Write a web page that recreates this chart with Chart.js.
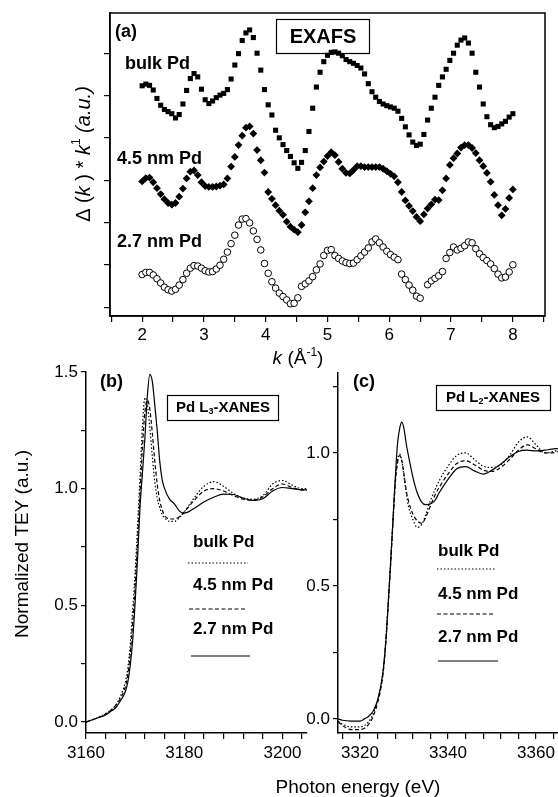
<!DOCTYPE html>
<html>
<head>
<meta charset="utf-8">
<script src="https://cdn.jsdelivr.net/npm/chart.js@4.4.1/dist/chart.umd.min.js"></script>
<style>
  html, body { margin: 0; padding: 0; background: #fff; }
  #wrap { position: relative; width: 558px; height: 797px; }
  #wrap canvas { position: absolute; left: 0; top: 0; }
</style>
</head>
<body>
<div id="wrap">
  <canvas id="exafs" width="558" height="797"></canvas>
  <canvas id="l3" width="558" height="797"></canvas>
  <canvas id="l2" width="558" height="797"></canvas>
</div>
<script>
// ---- EXAFS, panel (a) ----
const kValues = [
  2.00,2.06,2.12,2.18,2.24,2.30,2.36,2.42,2.48,2.54,
  2.60,2.66,2.72,2.78,2.84,2.90,2.96,3.02,3.08,3.14,
  3.20,3.26,3.32,3.38,3.44,3.50,3.56,3.62,3.68,3.74,
  3.80,3.86,3.92,3.98,4.04,4.10,4.16,4.22,4.28,4.34,
  4.40,4.46,4.52,4.58,4.64,4.70,4.76,4.82,4.88,4.94,
  5.00,5.06,5.12,5.18,5.24,5.30,5.36,5.42,5.48,5.54,
  5.60,5.66,5.72,5.78,5.84,5.90,5.96,6.02,6.08,6.14,
  6.20,6.26,6.32,6.38,6.44,6.50,6.56,6.62,6.68,6.74,
  6.80,6.86,6.92,6.98,7.04,7.10,7.16,7.22,7.28,7.34,
  7.40,7.46,7.52,7.58,7.64,7.70,7.76,7.82,7.88,7.94,
  8.00
];
const exafsBulk = [
  5.23,5.27,5.24,5.13,4.93,4.77,4.67,4.62,4.57,4.47,
  4.55,4.80,5.12,5.40,5.52,5.44,5.15,4.90,4.81,4.87,
  4.95,5.01,5.05,5.14,5.39,5.72,5.99,6.30,6.48,6.55,
  6.37,6.00,5.60,5.14,4.78,4.54,4.18,4.00,3.84,3.70,
  3.56,3.41,3.28,3.42,3.70,4.15,4.70,5.20,5.55,5.80,
  5.95,6.02,6.03,6.00,5.94,5.85,5.80,5.76,5.71,5.65,
  5.51,5.28,5.09,4.96,4.86,4.80,4.76,4.73,4.70,4.63,
  4.46,4.26,4.07,3.90,3.82,3.85,4.08,4.42,4.70,4.96,
  5.24,5.44,5.62,5.83,6.00,6.19,6.31,6.36,6.24,6.00,
  5.55,5.20,4.80,4.50,4.31,4.24,4.27,4.33,4.39,4.49,
  4.57
];
const exafs45nm = [
  2.97,3.05,3.06,2.95,2.81,2.67,2.55,2.46,2.42,2.46,
  2.61,2.80,3.04,3.20,3.23,3.12,2.95,2.86,2.84,2.84,
  2.85,2.87,2.90,3.04,3.32,3.55,3.83,4.05,4.24,4.27,
  4.10,3.71,3.47,3.18,2.72,2.56,2.41,2.28,2.18,2.02,
  1.90,1.83,1.77,1.94,2.24,2.50,2.81,3.12,3.30,3.44,
  3.57,3.66,3.59,3.43,3.27,3.17,3.16,3.24,3.33,3.33,
  3.31,3.31,3.31,3.31,3.31,3.27,3.21,3.15,3.09,2.95,
  2.72,2.52,2.39,2.27,2.13,2.03,2.19,2.33,2.43,2.54,
  2.53,2.76,3.04,3.36,3.52,3.63,3.77,3.83,3.83,3.76,
  3.64,3.47,3.33,3.17,2.96,2.65,2.41,2.17,2.32,2.58,
  2.78
];
const exafs27nm = [
  0.77,0.82,0.82,0.76,0.67,0.57,0.47,0.41,0.38,0.42,
  0.52,0.65,0.80,0.92,0.98,0.97,0.92,0.86,0.83,0.84,
  0.90,0.99,1.13,1.30,1.50,1.70,1.94,2.08,2.09,1.99,
  1.80,1.60,1.35,1.03,0.80,0.60,0.45,0.33,0.25,0.17,
  0.08,0.09,0.22,0.49,0.55,0.62,0.72,0.88,1.02,1.22,
  1.34,1.36,1.22,1.15,1.09,1.05,1.03,1.04,1.12,1.21,
  1.30,1.40,1.54,1.61,1.52,1.42,1.32,1.24,1.18,1.12,
  0.78,0.65,0.52,0.40,0.26,0.21,null,0.53,0.62,0.68,
  0.74,0.84,1.15,1.29,1.42,1.35,1.39,1.45,1.54,1.52,
  1.38,1.26,1.17,1.10,1.02,0.91,0.78,0.69,0.71,0.83,
  1.00
];
const kTickLabels = [2, 3, 4, 5, 6, 7, 8];

// ---- Pd L3-XANES, panel (b) ----
const energyL3 = [3160,3162,3164,3165,3166,3167,3168,3168.5,3169,3169.5,3170,3170.5,3171,3171.5,3172,3172.5,
  3173,3173.5,3174,3174.5,3175,3175.5,3176,3177,3178,3179,3180,3182,3184,3186,3188,3190,3192,3194,3196,3198,
  3200,3202,3204,3205];
const l3Bulk = [0.00,0.015,0.035,0.05,0.07,0.11,0.17,0.23,0.33,0.48,0.64,0.84,1.05,1.27,1.39,1.36,
  1.26,1.14,1.03,0.96,0.92,0.89,0.875,0.86,0.86,0.875,0.90,0.96,1.01,1.03,1.01,0.98,0.96,0.955,0.97,1.02,
  1.035,1.015,1.00,1.00];
const l3Nm45 = [0.00,0.015,0.035,0.05,0.07,0.10,0.15,0.20,0.29,0.42,0.58,0.77,0.98,1.18,1.33,1.38,
  1.34,1.24,1.12,1.02,0.95,0.91,0.885,0.87,0.87,0.88,0.90,0.95,0.99,1.00,0.99,0.97,0.955,0.95,0.965,1.00,
  1.02,1.005,0.995,0.995];
const l3Nm27 = [0.00,0.015,0.03,0.045,0.06,0.09,0.13,0.17,0.24,0.35,0.51,0.70,0.92,1.07,1.22,1.40,
  1.49,1.46,1.36,1.25,1.12,1.04,1.00,0.955,0.935,0.905,0.895,0.915,0.943,0.963,0.977,0.975,0.96,0.95,0.957,0.99,
  1.005,1.00,0.995,0.995];
const l3TickLabels = [3160, 3180, 3200];

// ---- Pd L2-XANES, panel (c) ----
const energyL2 = [3315,3316,3318,3320,3321,3322,3323,3324,3325,3325.5,3326,3326.5,3327,3327.5,3328,3328.5,
  3329,3329.5,3330,3330.5,3331,3332,3333,3334,3335,3336,3337,3338,3340,3342,3344,3346,3348,3350,3352,3354,
  3356,3358,3360,3362,3364,3365];
const l2Bulk = [-0.01,-0.02,-0.03,-0.03,-0.025,-0.01,0.02,0.07,0.15,0.22,0.33,0.46,0.60,0.75,0.89,0.97,
  0.995,0.97,0.91,0.85,0.80,0.75,0.72,0.73,0.77,0.82,0.86,0.895,0.95,0.99,1.00,0.975,0.95,0.945,0.955,0.99,
  1.04,1.06,1.03,1.00,1.005,1.01];
const l2Nm45 = [-0.01,-0.025,-0.04,-0.04,-0.035,-0.02,0.01,0.06,0.14,0.21,0.32,0.45,0.59,0.74,0.88,0.96,
  0.99,0.97,0.92,0.86,0.82,0.77,0.745,0.735,0.76,0.80,0.84,0.87,0.92,0.96,0.97,0.955,0.935,0.93,0.945,0.975,
  1.01,1.03,1.015,1.00,1.00,1.005];
const l2Nm27 = [0.00,-0.005,-0.008,-0.008,0.00,0.01,0.03,0.07,0.15,0.22,0.32,0.46,0.60,0.75,0.90,1.03,
  1.09,1.115,1.09,1.035,0.99,0.91,0.85,0.815,0.805,0.808,0.82,0.85,0.90,0.94,0.948,0.932,0.92,0.935,0.958,0.985,
  1.005,1.01,1.007,1.01,1.015,1.016];
const l2TickLabels = [3320, 3340, 3360];
const teyTickLabels = [0, 0.5, 1, 1.5];

const FONT = "'Liberation Sans', Arial, Helvetica, sans-serif";
Chart.defaults.font.family = FONT;
Chart.defaults.color = '#000';

function toXY(xs, ys) {
  return xs.map((x, i) => ({ x: x, y: ys[i] }));
}
function hasLabel(list, v) {
  return list.some(t => Math.abs(t - v) < 1e-6);
}
// draws a run of text pieces with different fonts on one line
function drawRich(ctx, parts, x, y, align) {
  let w = 0;
  parts.forEach(p => { ctx.font = p.f; p.w = ctx.measureText(p.t).width; w += p.w; });
  let cx = align === 'center' ? x - w / 2 : x;
  ctx.textAlign = 'left';
  ctx.textBaseline = 'middle';
  parts.forEach(p => { ctx.font = p.f; ctx.fillText(p.t, cx, y + (p.dy || 0)); cx += p.w; });
}
function lineSample(ctx, x1, x2, y, dash) {
  ctx.save();
  ctx.strokeStyle = '#000';
  ctx.lineWidth = 1.2;
  ctx.setLineDash(dash);
  ctx.beginPath();
  ctx.moveTo(x1, y);
  ctx.lineTo(x2, y);
  ctx.stroke();
  ctx.restore();
}

const B = 'bold ';
const DOTTED = [1.5, 2];
const DASHED = [4, 2.5];

// ---------- panel (a) ----------
const panelA = {
  id: 'panelA',
  afterDraw(chart) {
    const ctx = chart.ctx, a = chart.chartArea;
    ctx.save();
    ctx.strokeStyle = '#000';
    ctx.lineWidth = 1.5;
    ctx.strokeRect(a.left, a.top, a.right - a.left, a.bottom - a.top);
    ctx.fillStyle = '#000';
    drawRich(ctx, [{ t: '(a)', f: B + '18px ' + FONT }], 115, 32, 'left');
    ctx.lineWidth = 1.2;
    ctx.strokeRect(276.5, 19.5, 93, 34);
    drawRich(ctx, [{ t: 'EXAFS', f: B + '20px ' + FONT }], 323, 37, 'center');
    drawRich(ctx, [{ t: 'bulk Pd', f: B + '18px ' + FONT }], 125, 64, 'left');
    drawRich(ctx, [{ t: '4.5 nm Pd', f: B + '18px ' + FONT }], 117, 159, 'left');
    drawRich(ctx, [{ t: '2.7 nm Pd', f: B + '18px ' + FONT }], 117, 242, 'left');
    // x axis title
    drawRich(ctx, [
      { t: 'k', f: 'italic 19px ' + FONT },
      { t: ' (\u00C5', f: '19px ' + FONT },
      { t: '-1', f: '12px ' + FONT, dy: -6 },
      { t: ')', f: '19px ' + FONT }
    ], 298, 359, 'center');
    // y axis title
    ctx.translate(84, 154);
    ctx.rotate(-Math.PI / 2);
    drawRich(ctx, [
      { t: '\u0394 (', f: '20px ' + FONT },
      { t: 'k', f: 'italic 20px ' + FONT },
      { t: ' ) * ', f: '20px ' + FONT },
      { t: 'k', f: 'italic 20px ' + FONT },
      { t: '1', f: '12px ' + FONT, dy: -7 },
      { t: ' (a.u.)', f: 'italic 20px ' + FONT }
    ], 0, 0, 'center');
    ctx.restore();
  }
};

new Chart(document.getElementById('exafs'), {
  type: 'scatter',
  data: {
    datasets: [
      { label: 'bulk Pd', data: toXY(kValues, exafsBulk), pointStyle: 'rect', pointRadius: 3.6,
        backgroundColor: '#000', borderColor: '#000', borderWidth: 0 },
      { label: '4.5 nm Pd', data: toXY(kValues, exafs45nm), pointStyle: 'rectRot', pointRadius: 3.9,
        backgroundColor: '#000', borderColor: '#000', borderWidth: 0 },
      { label: '2.7 nm Pd', data: toXY(kValues, exafs27nm), pointStyle: 'circle', pointRadius: 3.3,
        backgroundColor: '#fff', borderColor: '#000', borderWidth: 1 }
    ]
  },
  options: {
    responsive: false,
    animation: false,
    events: [],
    layout: { padding: { left: 102, right: 13, top: 13, bottom: 797 - 316 - 40 } },
    plugins: { legend: { display: false }, tooltip: { enabled: false } },
    scales: {
      x: {
        type: 'linear', min: 1.48, max: 8.52,
        afterFit: s => { s.height = 40; },
        border: { color: '#000', width: 1.5 },
        grid: { drawOnChartArea: false, color: '#000', tickLength: 6, lineWidth: 1.2 },
        ticks: { stepSize: 0.5, includeBounds: false, autoSkip: false, maxRotation: 0, padding: 3,
          font: { size: 17 }, callback: v => hasLabel(kTickLabels, v) ? String(Math.round(v)) : '' }
      },
      y: {
        min: -0.21, max: 6.95,
        afterFit: s => { s.width = 8; },
        border: { color: '#000', width: 1.5 },
        grid: { drawOnChartArea: false, color: '#000', tickLength: 6, lineWidth: 1.2 },
        ticks: { stepSize: 1, includeBounds: false, display: false }
      }
    }
  },
  plugins: [panelA]
});

// ---------- panels (b) and (c) ----------
function xanesSets(energy, bulk, nm45, nm27) {
  const base = { pointRadius: 0, borderColor: '#000', borderWidth: 1.2, fill: false,
    cubicInterpolationMode: 'monotone', clip: false };
  return [
    Object.assign({ label: 'bulk Pd', data: toXY(energy, bulk), borderDash: DOTTED }, base),
    Object.assign({ label: '4.5 nm Pd', data: toXY(energy, nm45), borderDash: DASHED }, base),
    Object.assign({ label: '2.7 nm Pd', data: toXY(energy, nm27), borderDash: [] }, base)
  ];
}

function xanesOptions(pad, xMin, xMax, yMin, yMax, xLabels) {
  return {
    responsive: false,
    animation: false,
    events: [],
    layout: { padding: pad },
    plugins: { legend: { display: false }, tooltip: { enabled: false } },
    scales: {
      x: {
        type: 'linear', min: xMin, max: xMax,
        afterFit: s => { s.height = 40; },
        border: { color: '#000', width: 1.5 },
        grid: { drawOnChartArea: false, color: '#000', tickLength: 6, lineWidth: 1.2 },
        ticks: { stepSize: 4, includeBounds: false, autoSkip: false, maxRotation: 0, padding: 4,
          font: { size: 17 }, callback: v => hasLabel(xLabels, v) ? String(Math.round(v)) : '' }
      },
      y: {
        min: yMin, max: yMax,
        afterFit: s => { s.width = 60; },
        border: { color: '#000', width: 1.5 },
        grid: { drawOnChartArea: false, color: '#000', tickLength: 5, lineWidth: 1.2 },
        ticks: { stepSize: 0.25, includeBounds: false, autoSkip: false, padding: 3,
          font: { size: 17 }, callback: v => hasLabel(teyTickLabels, v) ? v.toFixed(1) : '' }
      }
    }
  };
}

function xanesLegend(ctx, x, rows) {
  rows.forEach(r => {
    drawRich(ctx, [{ t: r.t, f: B + '17px ' + FONT }], x, r.ty, 'left');
    lineSample(ctx, r.x1, r.x2, r.ly, r.dash);
  });
}

const panelB = {
  id: 'panelB',
  afterDraw(chart) {
    const ctx = chart.ctx;
    ctx.save();
    ctx.fillStyle = '#000';
    ctx.strokeStyle = '#000';
    drawRich(ctx, [{ t: '(b)', f: B + '18px ' + FONT }], 100, 382, 'left');
    ctx.lineWidth = 1.2;
    ctx.strokeRect(167.5, 395.5, 111, 25);
    drawRich(ctx, [
      { t: 'Pd L', f: B + '15px ' + FONT },
      { t: '3', f: B + '9px ' + FONT, dy: 4 },
      { t: '-XANES', f: B + '15px ' + FONT }
    ], 223, 408, 'center');
    xanesLegend(ctx, 193, [
      { t: 'bulk Pd', ty: 542, x1: 188, x2: 248, ly: 563, dash: DOTTED },
      { t: '4.5 nm Pd', ty: 585, x1: 189, x2: 245, ly: 609, dash: DASHED },
      { t: '2.7 nm Pd', ty: 629, x1: 191, x2: 250, ly: 656, dash: [] }
    ]);
    drawRich(ctx, [{ t: 'Photon energy (eV)', f: '19px ' + FONT }], 358, 788, 'center');
    ctx.translate(23, 544);
    ctx.rotate(-Math.PI / 2);
    drawRich(ctx, [{ t: 'Normalized TEY (a.u.)', f: '19px ' + FONT }], 0, 0, 'center');
    ctx.restore();
  }
};

const panelC = {
  id: 'panelC',
  afterDraw(chart) {
    const ctx = chart.ctx;
    ctx.save();
    ctx.fillStyle = '#000';
    ctx.strokeStyle = '#000';
    drawRich(ctx, [{ t: '(c)', f: B + '18px ' + FONT }], 353, 382, 'left');
    ctx.lineWidth = 1.2;
    ctx.strokeRect(436.5, 385.5, 114, 25);
    drawRich(ctx, [
      { t: 'Pd L', f: B + '15px ' + FONT },
      { t: '2', f: B + '9px ' + FONT, dy: 4 },
      { t: '-XANES', f: B + '15px ' + FONT }
    ], 493, 398, 'center');
    xanesLegend(ctx, 438, [
      { t: 'bulk Pd', ty: 551, x1: 437, x2: 495, ly: 569, dash: DOTTED },
      { t: '4.5 nm Pd', ty: 594, x1: 437, x2: 493, ly: 614, dash: DASHED },
      { t: '2.7 nm Pd', ty: 637, x1: 438, x2: 498, ly: 661, dash: [] }
    ]);
    ctx.restore();
  }
};

new Chart(document.getElementById('l3'), {
  type: 'line',
  data: { datasets: xanesSets(energyL3, l3Bulk, l3Nm45, l3Nm27) },
  options: xanesOptions({ left: 26, right: 251, top: 372, bottom: 24 }, 3160, 3205, -0.047, 1.5, l3TickLabels),
  plugins: [panelB]
});

new Chart(document.getElementById('l2'), {
  type: 'line',
  data: { datasets: xanesSets(energyL2, l2Bulk, l2Nm45, l2Nm27) },
  options: xanesOptions({ left: 278, right: 0, top: 373, bottom: 24 }, 3315, 3365, -0.053, 1.3, l2TickLabels),
  plugins: [panelC]
});
</script>
</body>
</html>
